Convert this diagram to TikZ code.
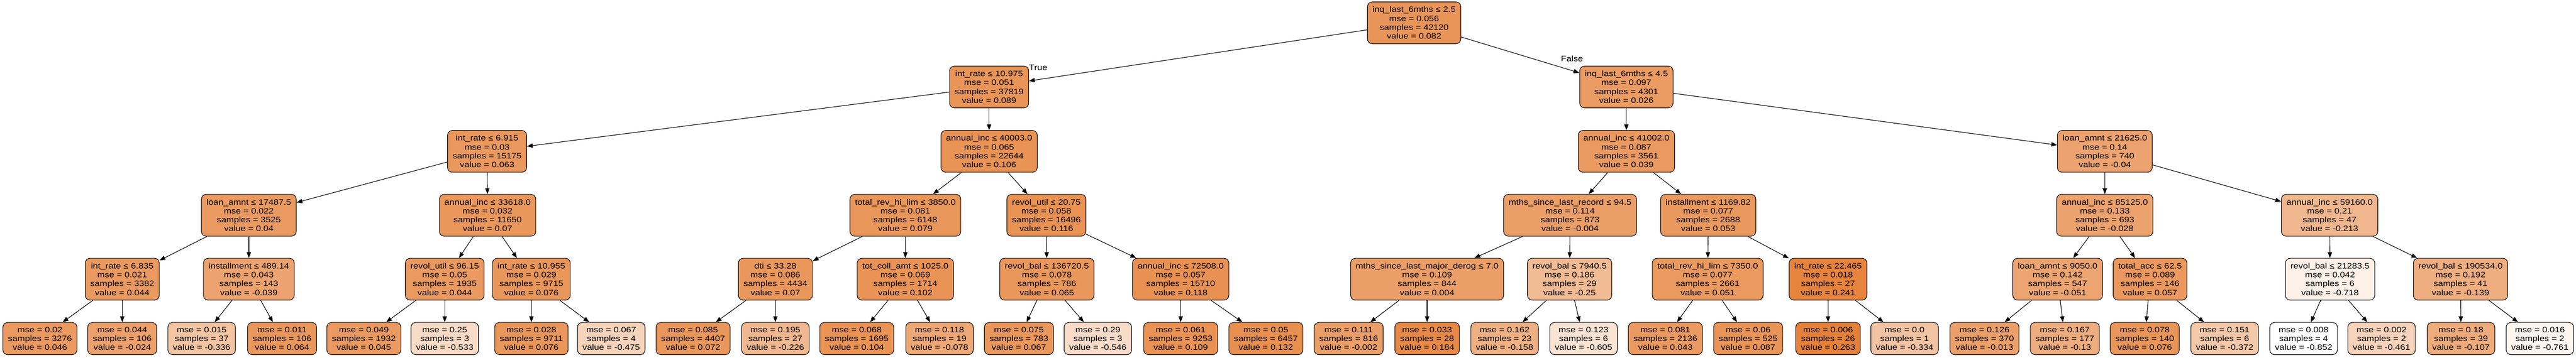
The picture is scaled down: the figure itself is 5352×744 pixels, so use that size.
\documentclass[tikz,border=0pt]{standalone}
\usepackage{fontspec}
\setmainfont{Liberation Sans}[FakeStretch=1.15]
\usetikzlibrary{arrows.meta}
\definecolor{tc}{RGB}{229,129,57}
\tikzset{
  nodebox/.style={draw=black, line width=1.2pt, rounded corners=10pt, align=center,
    font=\fontsize{16.3}{18.5}\selectfont, inner xsep=10.5pt, inner ysep=0pt},
  splitbox/.style={nodebox, minimum height=87pt},
  leafbox/.style={nodebox, minimum height=67pt},
  val/.style={/utils/exec={\pgfmathsetmacro\pct{min(100,max(0,(#1+0.852)/1.115*100))}},
    fill=tc!\pct!white},
  edge/.style={line width=1.2pt, -{Triangle[length=12pt,width=9pt]}},
  lbl/.style={font=\fontsize{16.3}{18.5}\selectfont, inner sep=0pt}
}
\newcommand\nd[7]{\node[splitbox,val={#7}] (#1) at (#2,#3) {#4\\mse = #5\\samples = #6\\value = #7};}
\newcommand\lf[5]{\node[leafbox,val={#5}] (#1) at (#2,39.5) {mse = #3\\samples = #4\\value = #5};}
\begin{document}
\begin{tikzpicture}[x=1pt,y=1pt]
\useasboundingbox (0,0) rectangle (5352,744);
% level 0
\nd{n0}{2938}{696.5}{inq\_last\_6mths ≤ 2.5}{0.056}{42120}{0.082}
% level 1
\nd{n1}{2055}{563}{int\_rate ≤ 10.975}{0.051}{37819}{0.089}
\nd{n2}{3379}{563}{inq\_last\_6mths ≤ 4.5}{0.097}{4301}{0.026}
% level 2
\nd{n3}{1012}{429}{int\_rate ≤ 6.915}{0.03}{15175}{0.063}
\nd{n4}{2055}{429}{annual\_inc ≤ 40003.0}{0.065}{22644}{0.106}
\nd{n5}{3379}{429}{annual\_inc ≤ 41002.0}{0.087}{3561}{0.039}
\nd{n6}{4373}{429}{loan\_amnt ≤ 21625.0}{0.14}{740}{-0.04}
% level 3
\nd{n7}{517}{296}{loan\_amnt ≤ 17487.5}{0.022}{3525}{0.04}
\nd{n8}{1013}{296}{annual\_inc ≤ 33618.0}{0.032}{11650}{0.07}
\nd{n9}{1881}{296}{total\_rev\_hi\_lim ≤ 3850.0}{0.081}{6148}{0.079}
\nd{n10}{2174}{296}{revol\_util ≤ 20.75}{0.058}{16496}{0.116}
\nd{n11}{3262}{296}{mths\_since\_last\_record ≤ 94.5}{0.114}{873}{-0.004}
\nd{n12}{3549}{296}{installment ≤ 1169.82}{0.077}{2688}{0.053}
\nd{n13}{4373}{296}{annual\_inc ≤ 85125.0}{0.133}{693}{-0.028}
\nd{n14}{4840}{296}{annual\_inc ≤ 59160.0}{0.21}{47}{-0.213}
% level 4
\nd{n15}{254}{163}{int\_rate ≤ 6.835}{0.021}{3382}{0.044}
\nd{n16}{517}{163}{installment ≤ 489.14}{0.043}{143}{-0.039}
\nd{n17}{924}{163}{revol\_util ≤ 96.15}{0.05}{1935}{0.044}
\nd{n18}{1104}{163}{int\_rate ≤ 10.955}{0.029}{9715}{0.076}
\nd{n19}{1611}{163}{dti ≤ 33.28}{0.086}{4434}{0.07}
\nd{n20}{1881}{163}{tot\_coll\_amt ≤ 1025.0}{0.069}{1714}{0.102}
\nd{n21}{2175}{163}{revol\_bal ≤ 136720.5}{0.078}{786}{0.065}
\nd{n22}{2453}{163}{annual\_inc ≤ 72508.0}{0.057}{15710}{0.118}
\nd{n23}{2965}{163}{mths\_since\_last\_major\_derog ≤ 7.0}{0.109}{844}{0.004}
\nd{n24}{3261}{163}{revol\_bal ≤ 7940.5}{0.186}{29}{-0.25}
\nd{n25}{3548}{163}{total\_rev\_hi\_lim ≤ 7350.0}{0.077}{2661}{0.051}
\nd{n26}{3798}{163}{int\_rate ≤ 22.465}{0.018}{27}{0.241}
\nd{n27}{4275}{163}{loan\_amnt ≤ 9050.0}{0.142}{547}{-0.051}
\nd{n28}{4467}{163}{total\_acc ≤ 62.5}{0.089}{146}{0.057}
\nd{n29}{4841}{163}{revol\_bal ≤ 21283.5}{0.042}{6}{-0.718}
\nd{n30}{5112}{163}{revol\_bal ≤ 190534.0}{0.192}{41}{-0.139}
% leaves
\lf{l1}{83}{0.02}{3276}{0.046}
\lf{l2}{254}{0.044}{106}{-0.024}
\lf{l3}{419}{0.015}{37}{-0.336}
\lf{l4}{586}{0.011}{106}{0.064}
\lf{l5}{756}{0.049}{1932}{0.045}
\lf{l6}{924}{0.25}{3}{-0.533}
\lf{l7}{1104}{0.028}{9711}{0.076}
\lf{l8}{1270}{0.067}{4}{-0.475}
\lf{l9}{1440}{0.085}{4407}{0.072}
\lf{l10}{1611}{0.195}{27}{-0.226}
\lf{l11}{1780}{0.068}{1695}{0.104}
\lf{l12}{1952}{0.118}{19}{-0.078}
\lf{l13}{2117}{0.075}{783}{0.067}
\lf{l14}{2281}{0.29}{3}{-0.546}
\lf{l15}{2453}{0.061}{9253}{0.109}
\lf{l16}{2630}{0.05}{6457}{0.132}
\lf{l17}{2802}{0.111}{816}{-0.002}
\lf{l18}{2965}{0.033}{28}{0.184}
\lf{l19}{3126}{0.162}{23}{-0.158}
\lf{l20}{3290}{0.123}{6}{-0.605}
\lf{l21}{3460}{0.081}{2136}{0.043}
\lf{l22}{3632}{0.06}{525}{0.087}
\lf{l23}{3798}{0.006}{26}{0.263}
\lf{l24}{3957}{0.0}{1}{-0.334}
\lf{l25}{4123}{0.126}{370}{-0.013}
\lf{l26}{4290}{0.167}{177}{-0.13}
\lf{l27}{4456}{0.078}{140}{0.076}
\lf{l28}{4622}{0.151}{6}{-0.372}
\lf{l29}{4786}{0.008}{4}{-0.852}
\lf{l30}{4948}{0.002}{2}{-0.461}
\lf{l31}{5113}{0.18}{39}{-0.107}
\lf{l32}{5277}{0.016}{2}{-0.761}
% edges
\foreach \p/\a/\b in {n0/n1/n2, n1/n3/n4, n2/n5/n6, n3/n7/n8, n4/n9/n10, n5/n11/n12,
  n6/n13/n14, n7/n15/n16, n8/n17/n18, n9/n19/n20, n10/n21/n22, n11/n23/n24,
  n12/n25/n26, n13/n27/n28, n14/n29/n30, n15/l1/l2, n16/l3/l4, n17/l5/l6,
  n18/l7/l8, n19/l9/l10, n20/l11/l12, n21/l13/l14, n22/l15/l16, n23/l17/l18,
  n24/l19/l20, n25/l21/l22, n26/l23/l24, n27/l25/l26, n28/l27/l28,
  n29/l29/l30, n30/l31/l32}
  {\draw[edge] (\p) -- (\a); \draw[edge] (\p) -- (\b);}
% edge labels
\node[lbl] (truelbl) at (2157,603) {True};
\node[lbl] (falselbl) at (3266,622) {False};
\end{tikzpicture}
\end{document}
